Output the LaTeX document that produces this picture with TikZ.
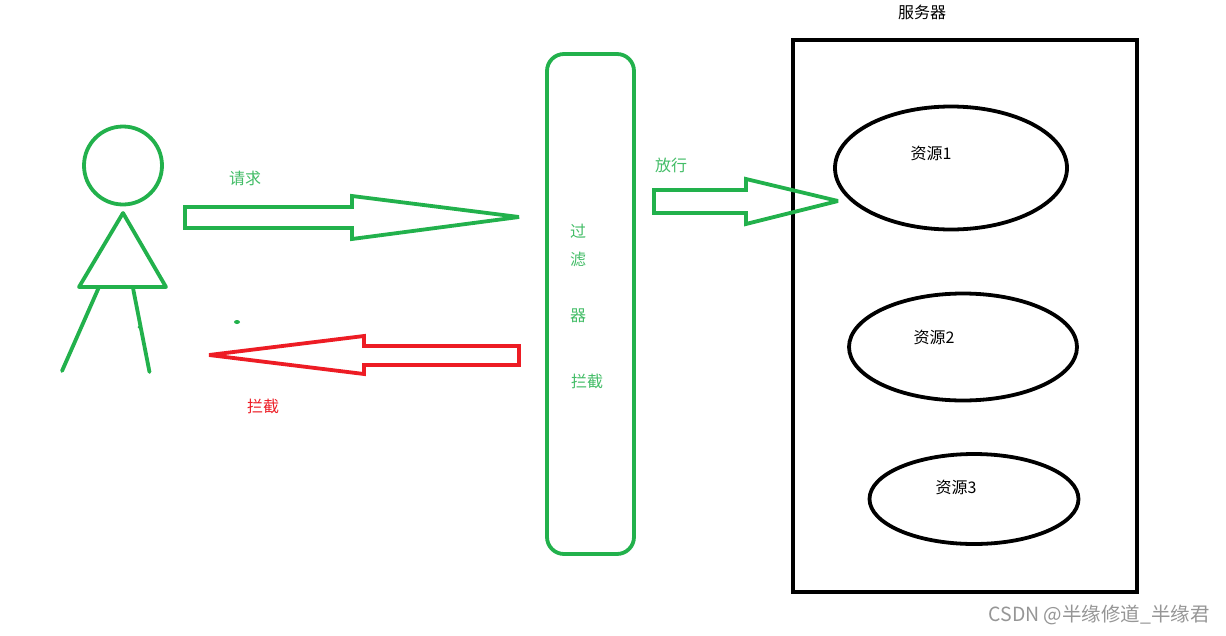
\documentclass[tikz,border=0pt]{standalone}
\usepackage{fontspec}
\setmainfont{Noto Sans CJK SC}
\definecolor{pgreen}{RGB}{34,177,76}
\definecolor{pred}{RGB}{237,28,36}
\definecolor{wmark}{RGB}{150,150,150}
\tikzset{
  gline/.style={draw=pgreen,line width=3.8pt,line join=round,line cap=round},
  rline/.style={draw=pred,line width=3.8pt,line join=miter},
  bline/.style={draw=black,line width=3.8pt},
  lbl/.style={inner sep=0pt,font=\fontsize{16}{18}\selectfont},
  glbl/.style={lbl,text=pgreen!85!white},
  rlbl/.style={lbl,text=pred},
  klbl/.style={lbl,text=black}
}
\begin{document}
\begin{tikzpicture}[x=1pt,y=-1pt]
\useasboundingbox[fill=white] (0,0) rectangle (1226,635);
% person
\draw[gline] (123,165.5) circle (39);
\draw[gline] (123,213) -- (79,287) -- (166,287) -- cycle;
\draw[gline] (99,287) -- (62,371);
\draw[gline] (133,288) -- (149.5,372);
\fill[pgreen] (237,322) ellipse (3 and 2);
\fill[pgreen] (139,327) circle (1.5);
% arrows
\draw[gline,line cap=butt,line join=miter,miter limit=3] (185,207) -- (352,207) -- (352,196) -- (519,217) -- (352,239) -- (352,228) -- (185,228) -- cycle;
\draw[rline,miter limit=3] (519,346) -- (364,346) -- (364,336) -- (209,355) -- (364,374) -- (364,365) -- (519,365) -- cycle;
% filter
\draw[gline,rounded corners=17] (547,54) rectangle (634,554);
% server
\draw[draw=black,line width=4.6pt] (793,40) rectangle (1137,592);
\draw[bline] (951,168) ellipse (116 and 61.5);
\draw[bline] (963,347) ellipse (114 and 53.5);
\draw[bline] (974,499) ellipse (104.5 and 45);
\draw[gline,line cap=butt,line join=miter,miter limit=3] (654,190) -- (746,190) -- (746,179) -- (838,201) -- (746,224) -- (746,213) -- (654,213) -- cycle;
% labels
\node[glbl] (req) at (245,178) {请求};
\node[rlbl] (blk) at (263,406) {拦截};
\node[glbl] (rel) at (671,165.5) {放行};
\node[glbl] (f1) at (578,231) {过};
\node[glbl] (f2) at (578,259.5) {滤};
\node[glbl] (f3) at (578,315.5) {器};
\node[glbl] (f4) at (587,381) {拦截};
\node[klbl] (srv) at (922,12) {服务器};
\node[klbl] (r1) at (931,153) {资源1};
\node[klbl] (r2) at (934,337) {资源2};
\node[klbl] (r3) at (956,487) {资源3};
\node[inner sep=0pt,anchor=east,text=wmark,font=\fontsize{19.5}{22}\selectfont] (wm) at (1210,615) {CSDN @半缘修道\_半缘君};
\end{tikzpicture}
\end{document}
